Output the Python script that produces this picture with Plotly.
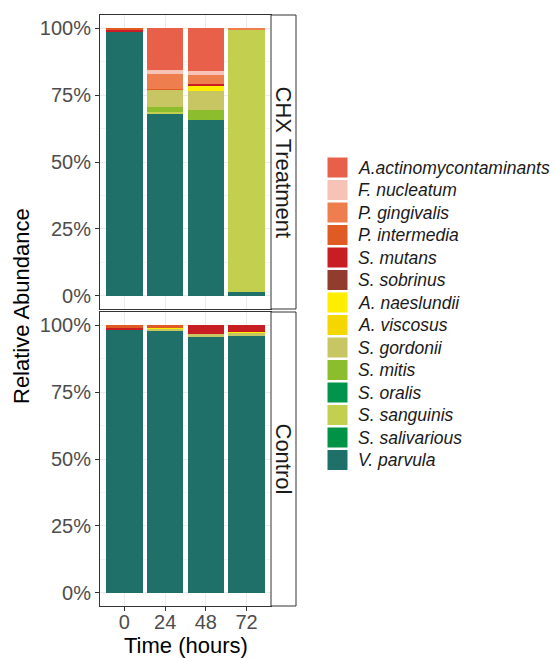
import plotly.graph_objects as go

times = ["0", "24", "48", "72"]
species = ["A.actinomycontaminants", "F. nucleatum", "P. gingivalis", "P. intermedia",
           "S. mutans", "S. sobrinus", "A. naeslundii", "A. viscosus", "S. gordonii",
           "S. mitis", "S. oralis", "S. sanguinis", "S. salivarious", "V. parvula"]
colors = ["#E8604A", "#F6C3B6", "#EE7E4E", "#E05A24", "#C81E23", "#923B2F", "#FFEE00",
          "#F5D700", "#C7C662", "#8CBD2D", "#00954A", "#C3CF4F", "#009245", "#20706A"]

# CHX Treatment values (fractions) per species at 0,24,48,72 h
chx_actino = [0.0, 0.154, 0.158, 0.0]
chx_fnuc = [0.0, 0.018, 0.015, 0.0]
chx_pging = [0.0, 0.053, 0.034, 0.006]
chx_pinter = [0.005, 0.005, 0.0, 0.0]
chx_smut = [0.010, 0.0, 0.010, 0.0]
chx_ssob = [0.0, 0.0, 0.0, 0.0]
chx_anaes = [0.0, 0.0, 0.016, 0.0]
chx_avisc = [0.0, 0.0, 0.0, 0.0]
chx_sgord = [0.0, 0.065, 0.071, 0.0]
chx_smitis = [0.0, 0.018, 0.038, 0.0]
chx_soral = [0.0, 0.0, 0.0, 0.0]
chx_ssang = [0.0, 0.004, 0.0, 0.982]
chx_ssaliv = [0.0, 0.0, 0.0, 0.0]
chx_vparv = [0.985, 0.683, 0.658, 0.012]

# Control values
ctl_actino = [0.0, 0.0, 0.0, 0.0]
ctl_fnuc = [0.0, 0.0, 0.0, 0.0]
ctl_pging = [0.0, 0.0, 0.0, 0.0]
ctl_pinter = [0.010, 0.008, 0.0, 0.0]
ctl_smut = [0.008, 0.0, 0.032, 0.023]
ctl_ssob = [0.0, 0.0, 0.0, 0.0]
ctl_anaes = [0.0, 0.004, 0.0, 0.004]
ctl_avisc = [0.0, 0.0, 0.0, 0.0]
ctl_sgord = [0.0, 0.010, 0.013, 0.013]
ctl_smitis = [0.0, 0.0, 0.0, 0.0]
ctl_soral = [0.0, 0.0, 0.0, 0.0]
ctl_ssang = [0.0, 0.0, 0.0, 0.0]
ctl_ssaliv = [0.0, 0.0, 0.0, 0.0]
ctl_vparv = [0.982, 0.978, 0.955, 0.960]

chx = [chx_actino, chx_fnuc, chx_pging, chx_pinter, chx_smut, chx_ssob, chx_anaes,
       chx_avisc, chx_sgord, chx_smitis, chx_soral, chx_ssang, chx_ssaliv, chx_vparv]
ctl = [ctl_actino, ctl_fnuc, ctl_pging, ctl_pinter, ctl_smut, ctl_ssob, ctl_anaes,
       ctl_avisc, ctl_sgord, ctl_smitis, ctl_soral, ctl_ssang, ctl_ssaliv, ctl_vparv]

W, H = 557, 658
FONT = "Arial, Liberation Sans, sans-serif"

def px_x(p):
    return p / W

def px_y(p):
    return 1 - p / H

fig = go.Figure()
# plotly stacks first trace at bottom -> add in reverse legend order
for i in reversed(range(len(species))):
    fig.add_trace(go.Bar(x=times, y=chx[i], name=species[i], marker_color=colors[i],
                         marker_line_width=0, xaxis="x", yaxis="y", showlegend=False))
    fig.add_trace(go.Bar(x=times, y=ctl[i], name=species[i], marker_color=colors[i],
                         marker_line_width=0, xaxis="x2", yaxis="y2", showlegend=False))

panel_l, panel_r = 100, 271
top_t, top_b = 15, 309
bot_t, bot_b = 312, 606
strip_r = 296

yax = dict(range=[-0.05, 1.05], tickvals=[0, 0.25, 0.5, 0.75, 1.0],
           ticktext=["0%", "25%", "50%", "75%", "100%"], ticks="outside", ticklen=4,
           tickcolor="#333333", tickwidth=1, showgrid=True, gridcolor="#EBEBEB", gridwidth=1,
           minor=dict(tickvals=[0.125, 0.375, 0.625, 0.875], showgrid=True,
                      gridcolor="#F3F3F3", gridwidth=0.5, ticks=""),
           tickfont=dict(family=FONT, size=20, color="#4D4D4D"), zeroline=False,
           showline=True, mirror=True, linecolor="#333333", linewidth=1, fixedrange=True)
xax = dict(type="category", categoryorder="array", categoryarray=times,
           range=[-0.6, 3.6], showgrid=True, gridcolor="#EBEBEB", gridwidth=1,
           zeroline=False, showline=True, mirror=True, linecolor="#333333", linewidth=1,
           tickfont=dict(family=FONT, size=20, color="#4D4D4D"), fixedrange=True)

fig.update_layout(
    width=W, height=H, margin=dict(l=0, r=0, t=0, b=0),
    paper_bgcolor="white", plot_bgcolor="white",
    barmode="stack", bargap=0.1, showlegend=False,
    xaxis=dict(xax, domain=[px_x(panel_l), px_x(panel_r)], anchor="y",
               showticklabels=False, ticks=""),
    yaxis=dict(yax, domain=[px_y(top_b), px_y(top_t)], anchor="x"),
    xaxis2=dict(xax, domain=[px_x(panel_l), px_x(panel_r)], anchor="y2",
                ticks="outside", ticklen=4, tickcolor="#333333", ticklabelstandoff=-6),
    yaxis2=dict(yax, domain=[px_y(bot_b), px_y(bot_t)], anchor="x2"),
)

shapes = []
annotations = []
# facet strips
for (t, b, label) in [(top_t, top_b, "CHX Treatment"), (bot_t, bot_b, "Control")]:
    shapes.append(dict(type="rect", xref="paper", yref="paper",
                       x0=px_x(panel_r), x1=px_x(strip_r), y0=px_y(b), y1=px_y(t),
                       fillcolor="white", line=dict(color="#333333", width=1)))
    annotations.append(dict(xref="paper", yref="paper", x=px_x((panel_r + strip_r) / 2),
                            y=px_y((t + b) / 2), text=label, showarrow=False, textangle=90,
                            font=dict(family=FONT, size=22, color="#1A1A1A"),
                            xanchor="center", yanchor="middle"))

# axis titles
annotations.append(dict(xref="paper", yref="paper", x=px_x(22), y=px_y(306),
                        text="Relative Abundance", showarrow=False, textangle=-90,
                        font=dict(family=FONT, size=22, color="black"),
                        xanchor="center", yanchor="middle"))
annotations.append(dict(xref="paper", yref="paper", x=px_x((panel_l + panel_r) / 2),
                        y=px_y(645), text="Time (hours)", showarrow=False,
                        font=dict(family=FONT, size=22, color="black"),
                        xanchor="center", yanchor="middle"))

# legend (manual)
leg_x0, leg_top, key, step = 327, 157, 21, 22.5
for i, (sp, c) in enumerate(zip(species, colors)):
    y0 = leg_top + i * step
    shapes.append(dict(type="rect", xref="paper", yref="paper",
                       x0=px_x(leg_x0), x1=px_x(leg_x0 + key),
                       y0=px_y(y0 + key), y1=px_y(y0), fillcolor=c,
                       line=dict(color="white", width=1)))
    annotations.append(dict(xref="paper", yref="paper", x=px_x(leg_x0 + key + 8),
                            y=px_y(y0 + key / 2), text="<i>" + sp + "</i>", showarrow=False,
                            font=dict(family=FONT, size=17.5, color="#1A1A1A"),
                            xanchor="left", yanchor="middle"))

fig.update_layout(shapes=shapes, annotations=annotations)
fig.write_html("out.html", config={"displayModeBar": False},
               post_script="document.body.style.margin='0px';")
